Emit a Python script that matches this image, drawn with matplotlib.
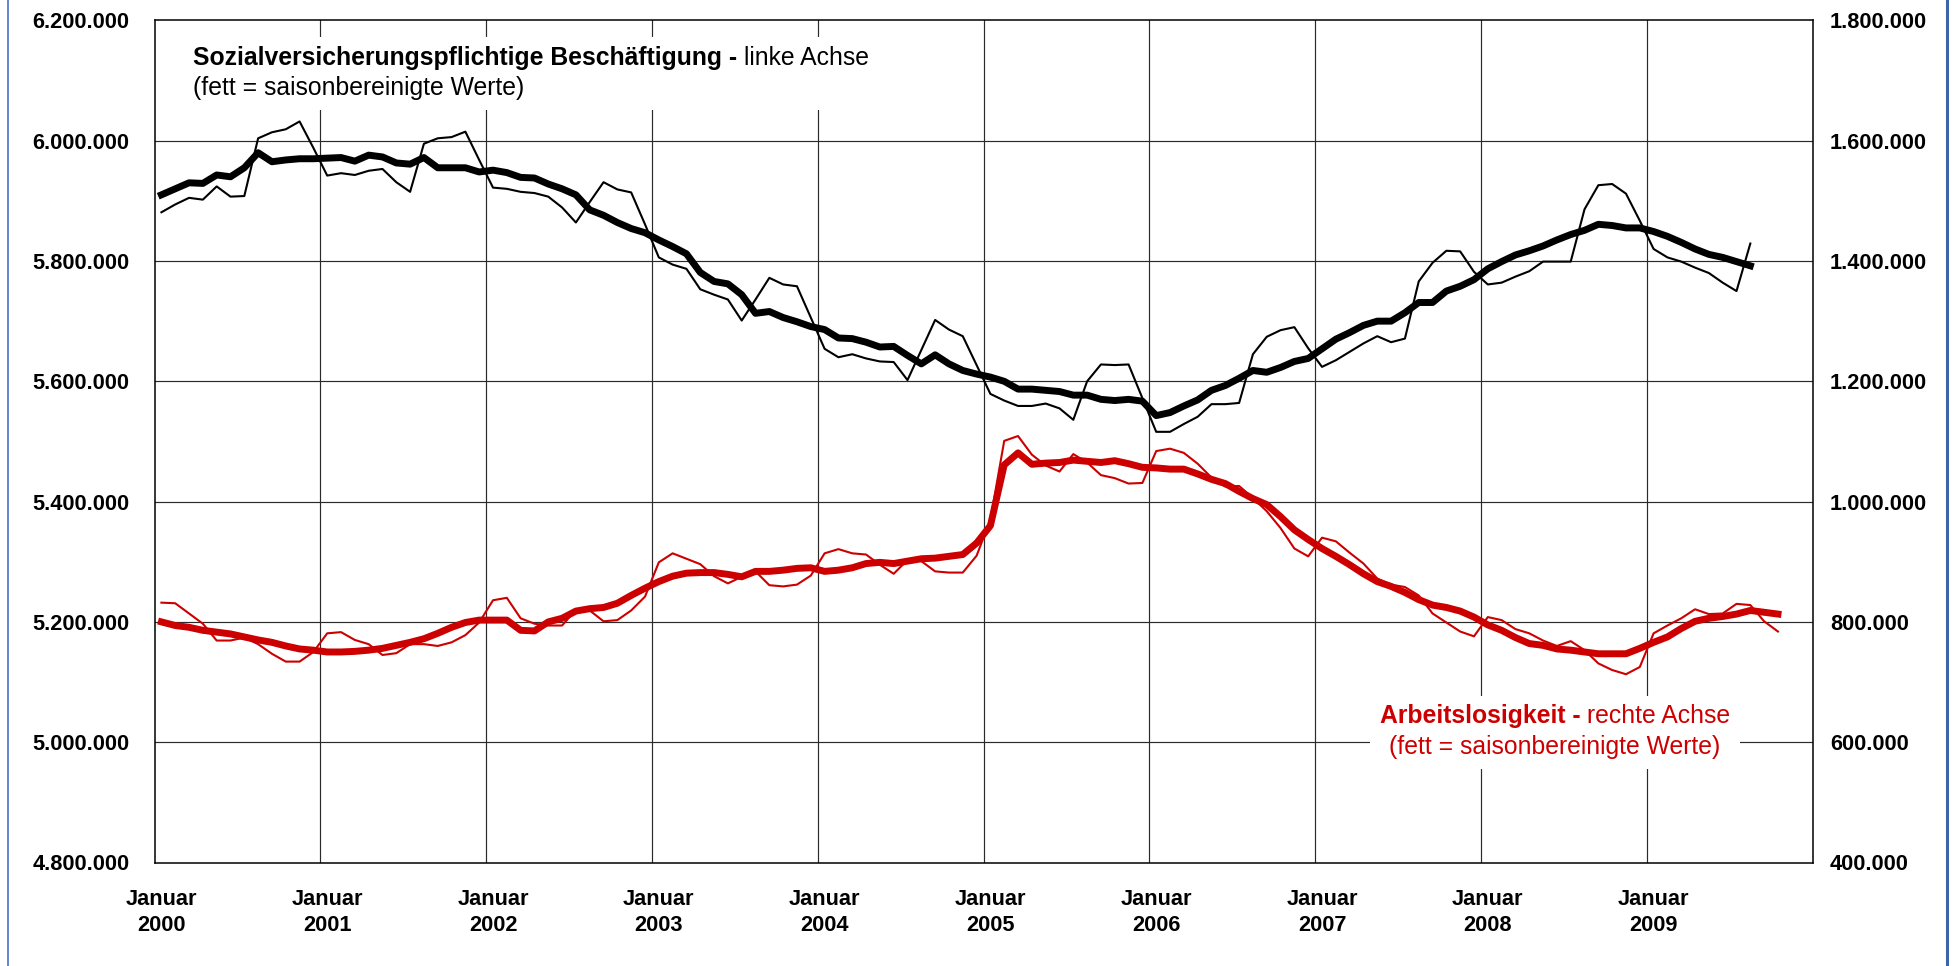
import matplotlib
matplotlib.use("Agg")
import matplotlib.pyplot as plt
from matplotlib.patches import Rectangle
from matplotlib.lines import Line2D
import numpy as np

plt.rcParams['font.family'] = ['Liberation Sans', 'DejaVu Sans']

# monthly values from Januar 2000, in thousands
years = list(range(2000, 2010))

# Sozialversicherungspflichtige Beschäftigung (linke Achse)
emp_raw = [5881, 5894, 5905, 5902, 5924, 5907, 5908, 6004, 6014, 6019, 6032, 5988,
           5942, 5946, 5943, 5950, 5953, 5931, 5915, 5995, 6004, 6006, 6015, 5968,
           5922, 5920, 5915, 5913, 5907, 5889, 5864, 5898, 5931, 5919, 5914, 5861,
           5806, 5794, 5787, 5753, 5744, 5736, 5701, 5736, 5772, 5761, 5758, 5706,
           5654, 5640, 5645, 5638, 5633, 5632, 5602, 5652, 5702, 5686, 5675, 5627,
           5579, 5568, 5559, 5559, 5563, 5555, 5536, 5600, 5628, 5627, 5628, 5572,
           5516, 5516, 5529, 5541, 5562, 5562, 5564, 5645, 5674, 5685, 5690, 5655,
           5624, 5635, 5649, 5663, 5675, 5665, 5671, 5766, 5797, 5817, 5816, 5782,
           5761, 5764, 5774, 5783, 5799, 5799, 5799, 5886, 5926, 5928, 5912, 5867,
           5820, 5806, 5799, 5789, 5780, 5764, 5750, 5829]
emp_sa = [5910, 5920, 5930, 5929, 5943, 5940, 5955, 5980, 5965, 5968, 5970, 5970,
          5971, 5972, 5966, 5976, 5973, 5963, 5961, 5972, 5955, 5955, 5955, 5948,
          5951, 5947, 5939, 5938, 5928, 5920, 5910, 5885, 5876, 5864, 5854, 5847,
          5835, 5824, 5812, 5781, 5766, 5762, 5744, 5713, 5716, 5706, 5699, 5691,
          5686, 5672, 5671, 5665, 5657, 5658, 5643, 5629, 5644, 5629, 5618, 5612,
          5607, 5600, 5587, 5587, 5585, 5583, 5577, 5577, 5570, 5568, 5570, 5567,
          5543, 5548, 5559, 5569, 5585, 5593, 5605, 5618, 5615, 5623, 5633, 5638,
          5654, 5670, 5681, 5693, 5700, 5700, 5714, 5731, 5731, 5750, 5758, 5769,
          5787, 5799, 5810, 5817, 5825, 5835, 5844, 5851, 5861, 5859, 5855, 5855,
          5849, 5841, 5831, 5820, 5811, 5806, 5799, 5792]

# Arbeitslosigkeit (rechte Achse)
unemp_raw = [832, 831, 814, 797, 769, 769, 774, 763, 747, 734, 734, 750,
             781, 783, 770, 763, 745, 748, 763, 763, 760, 766, 778, 799,
             836, 840, 806, 797, 794, 794, 820, 819, 801, 803, 819, 842,
             899, 914, 905, 896, 876, 864, 875, 884, 861, 859, 862, 877,
             914, 921, 914, 912, 895, 880, 903, 901, 884, 882, 882, 910,
             970, 1101, 1109, 1078, 1060, 1050, 1079, 1065, 1044, 1039, 1030, 1031,
             1084, 1088, 1081, 1063, 1040, 1025, 1026, 1006, 984, 956, 922, 909,
             940, 934, 915, 897, 872, 862, 858, 844, 814, 799, 784, 776,
             808, 803, 788, 781, 769, 760, 768, 753, 731, 720, 713, 725,
             781, 794, 806, 821, 813, 814, 830, 828, 801, 784]
unemp_sa = [800, 794, 791, 786, 783, 780, 775, 770, 766, 760, 755, 753,
            750, 750, 751, 753, 756, 761, 766, 772, 781, 791, 799, 803,
            803, 803, 786, 785, 800, 806, 818, 822, 824, 831, 844, 856,
            867, 876, 881, 882, 882, 879, 875, 884, 884, 886, 889, 890,
            884, 886, 890, 897, 899, 897, 901, 905, 906, 909, 912, 931,
            960, 1061, 1081, 1062, 1064, 1065, 1069, 1067, 1065, 1068, 1063, 1057,
            1056, 1054, 1054, 1046, 1037, 1030, 1017, 1005, 995, 975, 953, 937,
            922, 909, 895, 880, 867, 859, 849, 837, 828, 824, 818, 808,
            795, 786, 774, 764, 761, 755, 753, 750, 747, 747, 747, 756,
            766, 775, 789, 801, 806, 809, 813, 819, 816, 813]

left_ticks = [4800000, 5000000, 5200000, 5400000, 5600000, 5800000, 6000000, 6200000]
right_ticks = [400000, 600000, 800000, 1000000, 1200000, 1400000, 1600000, 1800000]

W, H = 1952, 966
RED = '#cc0000'


def fx(px):
    return px / W


def fy(py):
    return 1 - py / H


def fmt(v):
    return f"{v:,}".replace(',', '.')


fig = plt.figure(figsize=(W / 100, H / 100), dpi=100)
left, right, top, bottom = 154.5, 1812.5, 20.4, 862.5
ax = fig.add_axes([fx(left), fy(bottom), (right - left) / W, (bottom - top) / H])
ax2 = ax.twinx()

ax.set_xlim(0, 120)
ax.set_ylim(left_ticks[0], left_ticks[-1])
ax2.set_ylim(right_ticks[0], right_ticks[-1])

# grid
grid_col = '#2a2a2a'
for v in left_ticks[1:-1]:
    ax.axhline(v, color=grid_col, lw=0.85, zorder=1)
for k in range(1, 10):
    ax.axvline(12 * k, color=grid_col, lw=0.85, zorder=1)

for s in ax.spines.values():
    s.set_color('black')
    s.set_linewidth(1.1)
for s in ax2.spines.values():
    s.set_visible(False)

# ticks
ax.set_yticks(left_ticks)
ax.set_yticklabels([fmt(v) for v in left_ticks], fontweight='bold', fontsize=15.7)
ax.tick_params(axis='y', length=0, pad=18)
ax2.set_yticks(right_ticks)
ax2.set_yticklabels([fmt(v) for v in right_ticks], fontweight='bold', fontsize=15.7)
ax2.tick_params(axis='y', length=0, pad=12.5)
ax.set_xticks([12 * k + 0.5 for k in range(len(years))])
ax.set_xticklabels([f"Januar\n{y}" for y in years], fontweight='bold', fontsize=15.7,
                   linespacing=1.35)
ax.tick_params(axis='x', length=0, pad=19)

# data lines
x_emp = np.arange(len(emp_raw)) + 0.5
x_u = np.arange(len(unemp_raw)) + 0.5
ax.plot(x_emp, np.array(emp_raw) * 1000, color='black', lw=1.5, zorder=3)
ax.plot(x_emp, np.array(emp_sa) * 1000, color='black', lw=5.0, zorder=4)
ax2.plot(x_u, np.array(unemp_raw) * 1000, color=RED, lw=1.5, zorder=3)
ax2.plot(x_u, np.array(unemp_sa) * 1000, color=RED, lw=5.0, zorder=4)

# white boxes behind the notes
ax.add_patch(Rectangle((fx(183), fy(110)), (885 - 183) / W, (110 - 37) / H,
                       transform=fig.transFigure, facecolor='white',
                       edgecolor='none', zorder=2))
ax.add_patch(Rectangle((fx(1370), fy(769)), (1740 - 1370) / W, (769 - 696) / H,
                       transform=fig.transFigure, facecolor='white',
                       edgecolor='none', zorder=2))

fs = 17.8
renderer = fig.canvas.get_renderer()
space = 7

# black note
b1 = fig.text(fx(193), fy(65), "Sozialversicherungspflichtige Beschäftigung -",
              fontsize=fs, fontweight='bold', va='baseline', ha='left')
bb = b1.get_window_extent(renderer)
fig.text((bb.x1 + space) / W, fy(65), "linke Achse", fontsize=fs,
         va='baseline', ha='left')
fig.text(fx(193), fy(95), "(fett = saisonbereinigte Werte)", fontsize=fs,
         va='baseline', ha='left')

# red note
r1 = fig.text(0, fy(723), "Arbeitslosigkeit -", fontsize=fs, fontweight='bold',
              color=RED, va='baseline', ha='left')
r2 = fig.text(0, fy(723), "rechte Achse", fontsize=fs, color=RED,
              va='baseline', ha='left')
w1 = r1.get_window_extent(renderer).width
w2 = r2.get_window_extent(renderer).width
x0 = 1555 - (w1 + space + w2) / 2
r1.set_x(fx(x0))
r2.set_x(fx(x0 + w1 + space))
fig.text(fx(1555), fy(754), "(fett = saisonbereinigte Werte)", fontsize=fs,
         color=RED, va='baseline', ha='center')

# blue frame at the sides
fig.add_artist(Line2D([fx(8), fx(8)], [0, 1], transform=fig.transFigure,
                      color='#4472c4', lw=1.2))
fig.add_artist(Line2D([fx(1947), fx(1947)], [0, 1], transform=fig.transFigure,
                      color='#3f64a8', lw=2.2))

fig.savefig('out.png', dpi=100)
